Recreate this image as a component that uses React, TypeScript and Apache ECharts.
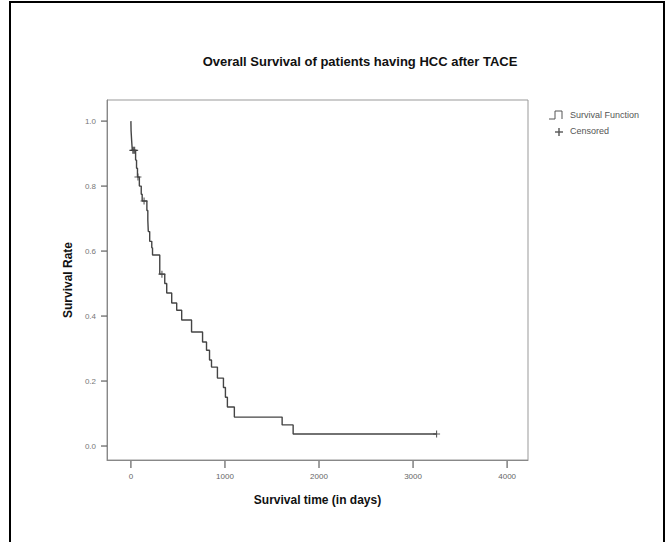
import React, { useEffect, useRef } from "react";
import * as echarts from "echarts";

const titleText = "Overall Survival of patients having HCC after TACE";
const xAxisTitle = "Survival time (in days)";
const yAxisTitle = "Survival Rate";
const legendLabels = ["Survival Function", "Censored"];

const xTicks = [0, 1000, 2000, 3000, 4000];
const yTicks = [0, 0.2, 0.4, 0.6, 0.8, 1.0];

// Kaplan-Meier step points (time in days, survival after event)
const eventTimes = [0, 2, 8, 15, 50, 60, 70, 90, 110, 120, 170, 180, 185, 200, 222, 230, 307, 360, 381, 434, 487, 540, 645, 762, 804, 836, 857, 920, 984, 1005, 1026, 1100, 1608, 1725, 3250];
const survivalRates = [1.0, 0.97, 0.94, 0.91, 0.88, 0.855, 0.828, 0.8, 0.775, 0.754, 0.725, 0.695, 0.66, 0.63, 0.61, 0.588, 0.529, 0.5, 0.471, 0.44, 0.418, 0.388, 0.351, 0.32, 0.295, 0.265, 0.243, 0.209, 0.18, 0.15, 0.12, 0.089, 0.065, 0.037, 0.037];

// Censored observations
const censorTimes = [20, 30, 40, 75, 140, 330, 3250];
const censorRates = [0.91, 0.91, 0.91, 0.828, 0.754, 0.529, 0.037];

const X_MIN = -254;
const X_MAX = 4222;
const Y_MIN = -0.043;
const Y_MAX = 1.065;

const PLUS = "path://M4.2,0h1.6v10h-1.6z M0,4.2h10v1.6h-10z";
const TICK_V = "path://M0,0h2v10h-2z";
const TICK_H = "path://M0,0h10v2h-10z";

export default function App() {
  const ref = useRef<HTMLDivElement>(null);
  useEffect(() => {
    if (!ref.current) return;
    const chart = echarts.init(ref.current, null, { renderer: "svg" });
    const font = "Liberation Sans, Arial, sans-serif";
    chart.setOption({
      animation: false,
      backgroundColor: "#fff",
      textStyle: { fontFamily: font },
      title: {
        text: titleText,
        left: 355,
        textAlign: "center",
        top: 50,
        textStyle: { fontSize: 13, fontWeight: "bold", color: "#111", fontFamily: font },
      },
      grid: {
        left: 107,
        top: 100,
        right: 142,
        bottom: 82,
        show: true,
        borderColor: "#999",
        borderWidth: 1,
      },
      xAxis: {
        type: "value",
        min: X_MIN,
        max: X_MAX,
        name: xAxisTitle,
        nameLocation: "middle",
        nameGap: 34,
        nameTextStyle: { fontSize: 12, fontWeight: "bold", color: "#111", fontFamily: font },
        axisLine: { show: true, onZero: false, lineStyle: { color: "#888" } },
        axisTick: { show: false },
        axisLabel: {
          customValues: xTicks,
          fontSize: 8,
          color: "#666",
          margin: 12,
          formatter: (v: number) => String(Math.round(v)),
        },
        splitLine: { show: false },
      },
      yAxis: {
        type: "value",
        min: Y_MIN,
        max: Y_MAX,
        name: yAxisTitle,
        nameLocation: "middle",
        nameGap: 30,
        nameRotate: 90,
        nameTextStyle: { fontSize: 12, fontWeight: "bold", color: "#111", fontFamily: font },
        axisLine: { show: true, onZero: false, lineStyle: { color: "#888" } },
        axisTick: { show: false },
        axisLabel: {
          customValues: yTicks,
          fontSize: 8,
          color: "#777",
          margin: 11,
          formatter: (v: number) => v.toFixed(1),
        },
        splitLine: { show: false },
      },
      series: [
        {
          name: legendLabels[0],
          type: "line",
          step: "end",
          data: eventTimes.map((t, i) => [t, survivalRates[i]]),
          showSymbol: false,
          lineStyle: { color: "#444", width: 1.4 },
        },
        {
          name: legendLabels[1],
          type: "scatter",
          data: censorTimes.map((t, i) => [t, censorRates[i]]),
          symbol: PLUS,
          symbolSize: 7,
          itemStyle: { color: "#333" },
        },
        {
          // x-axis tick marks, as scatter symbols below the axis
          type: "scatter",
          silent: true,
          clip: false,
          data: xTicks.map((t) => [t, Y_MIN]),
          symbol: TICK_V,
          symbolSize: [1.4, 7],
          symbolOffset: [0, 4.5],
          itemStyle: { color: "#555" },
          z: 10,
        },
        {
          // y-axis tick marks, left of the axis
          type: "scatter",
          silent: true,
          clip: false,
          data: yTicks.map((v) => [X_MIN, v]),
          symbol: TICK_H,
          symbolSize: [6, 1.4],
          symbolOffset: [-3, 0],
          itemStyle: { color: "#555" },
          z: 10,
        },
      ],
      graphic: [
        {
          type: "polyline",
          shape: { points: [[10, 542], [10, 2], [664, 2], [664, 542]] },
          style: { stroke: "#000", lineWidth: 2, fill: null },
        },
        {
          type: "polyline",
          shape: { points: [[549, 119], [555, 119], [555, 111], [562, 111], [562, 119]] },
          style: { stroke: "#555", lineWidth: 1, fill: null },
        },
        {
          type: "text",
          left: 570,
          top: 110,
          style: { text: legendLabels[0], fontSize: 9, fill: "#555", fontFamily: font },
        },
        { type: "rect", shape: { x: 558.3, y: 128, width: 1.4, height: 8 }, style: { fill: "#555" } },
        { type: "rect", shape: { x: 555, y: 131.3, width: 8, height: 1.4 }, style: { fill: "#555" } },
        {
          type: "text",
          left: 570,
          top: 126,
          style: { text: legendLabels[1], fontSize: 9, fill: "#555", fontFamily: font },
        },
      ],
    });
    return () => chart.dispose();
  }, []);
  return (
    <div
      ref={ref}
      style={{ position: "fixed", left: 0, top: 0, width: 670, height: 542, background: "#fff" }}
    />
  );
}
